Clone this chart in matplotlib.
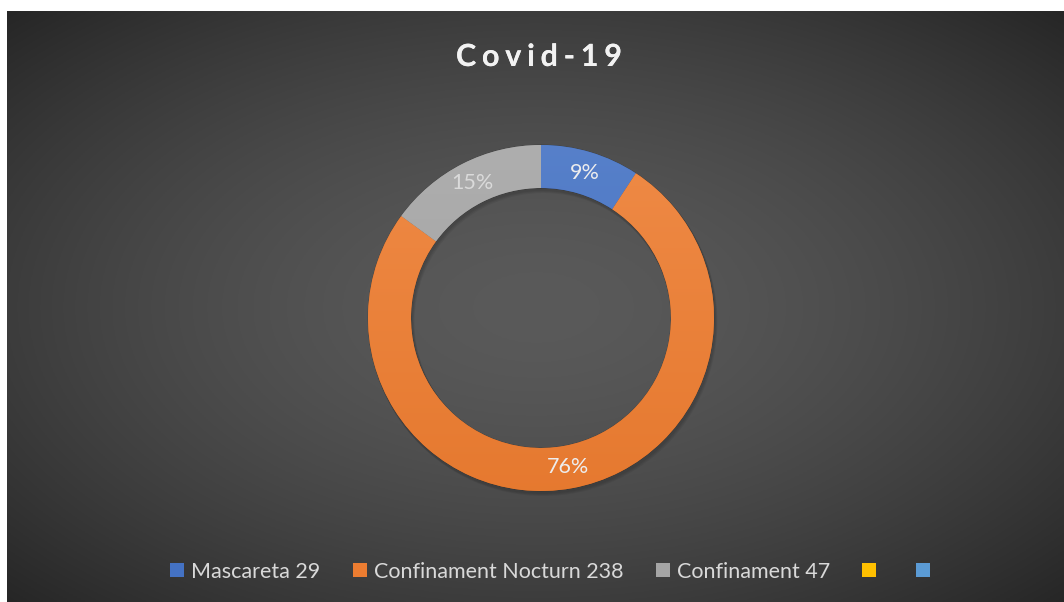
import numpy as np
import matplotlib
matplotlib.use("Agg")
import matplotlib.pyplot as plt
from matplotlib.colors import LinearSegmentedColormap, to_rgb
from matplotlib.lines import Line2D
from matplotlib.patches import Wedge
import matplotlib.patheffects as pe

# data
categories = ["Mascareta", "Confinament Nocturn", "Confinament"]
values = [29, 238, 47]
colors = ["#4472C4", "#ED7D31", "#A5A5A5"]
# two extra legend entries with no label / no value
extra_colors = ["#FFC000", "#5B9BD5"]
title = "Covid-19"

FONT = ["Lato", "DejaVu Sans"]
W, H = 1064, 602
fig = plt.figure(figsize=(W / 100, H / 100), dpi=100)
fig.patch.set_facecolor("white")

# dark radial background (leaves white strip on top/left)
bg = fig.add_axes([7 / W, 0, 1 - 7 / W, (H - 11) / H])
bg.set_axis_off()
yy, xx = np.mgrid[0:300, 0:530]
r2 = (((xx - 265) / 265.0) ** 2 + ((yy - 150) / 150.0) ** 2) / 2
shade = 90 - 52 * np.clip(r2, 0, 1) ** 0.8
bg.imshow(np.dstack([shade, shade, shade]) / 255.0, aspect="auto", extent=(0, 1, 0, 1))
bg.set_xlim(0, 1)
bg.set_ylim(0, 1)

# donut
cx, cy, R, ring = 541, 318, 173, 43
ax = fig.add_axes([(cx - 200) / W, 1 - (cy + 200) / H, 400 / W, 400 / H])
ax.set_axis_off()

# soft shadow under the ring
for k, a in enumerate([0.06, 0.06, 0.06]):
    ax.add_patch(Wedge((1 + k * 0.7, -2 - k), R + 1, 0, 360, width=ring + 2,
                       facecolor=(0, 0, 0, a), edgecolor="none", zorder=0))

wedges, texts, autotexts = ax.pie(
    values, colors=colors, radius=R, startangle=90, counterclock=False,
    autopct="%.0f%%", pctdistance=(R - ring / 2) / R,
    wedgeprops=dict(width=ring, edgecolor=(0, 0, 0, 0.2), linewidth=0.6),
    textprops=dict(color="#EDEDED", fontsize=15.5, family=FONT),
)


def mix(c, f):
    c = np.array(to_rgb(c))
    if f > 0:
        return tuple(c + (1 - c) * f)
    return tuple(c * (1 + f))


grad = np.linspace(0, 1, 256)[:, None]
for w, c in zip(wedges, colors):
    cmap = LinearSegmentedColormap.from_list("g", [mix(c, -0.03), mix(c, 0.1)])
    im = ax.imshow(grad, extent=(-R, R, -R, R), origin="lower", cmap=cmap,
                   aspect="auto", zorder=w.get_zorder() + 0.1)
    im.set_clip_path(w)
for t in autotexts:
    t.set_zorder(5)
autotexts[2].set_color("#DADADA")
ax.set_xlim(-200, 200)
ax.set_ylim(-200, 200)

# title with spaced letters
fig.text(539 / W, 1 - 57 / H, "\u2009\u200a".join(title), ha="center", va="center",
         fontsize=22, fontweight="bold", color="#F2F2F2", family=FONT,
         path_effects=[pe.withSimplePatchShadow(offset=(1, -1), alpha=0.5), pe.Normal()])

# legend
labels = [f"{c} {v}" for c, v in zip(categories, values)] + ["", ""]
handles = [Line2D([], [], marker="s", linestyle="none", markersize=10,
                  markerfacecolor=c, markeredgewidth=0)
           for c in colors + extra_colors]
fig.legend(handles, labels, loc="center left", bbox_to_anchor=(170 / W, 1 - 572 / H),
           ncol=5, frameon=False, handlelength=0.65, handletextpad=0.33,
           columnspacing=1.5, borderpad=0, borderaxespad=0,
           prop=dict(family=FONT, size=15.5), labelcolor="#D9D9D9")

fig.savefig("out.png", dpi=100, facecolor=fig.get_facecolor())
